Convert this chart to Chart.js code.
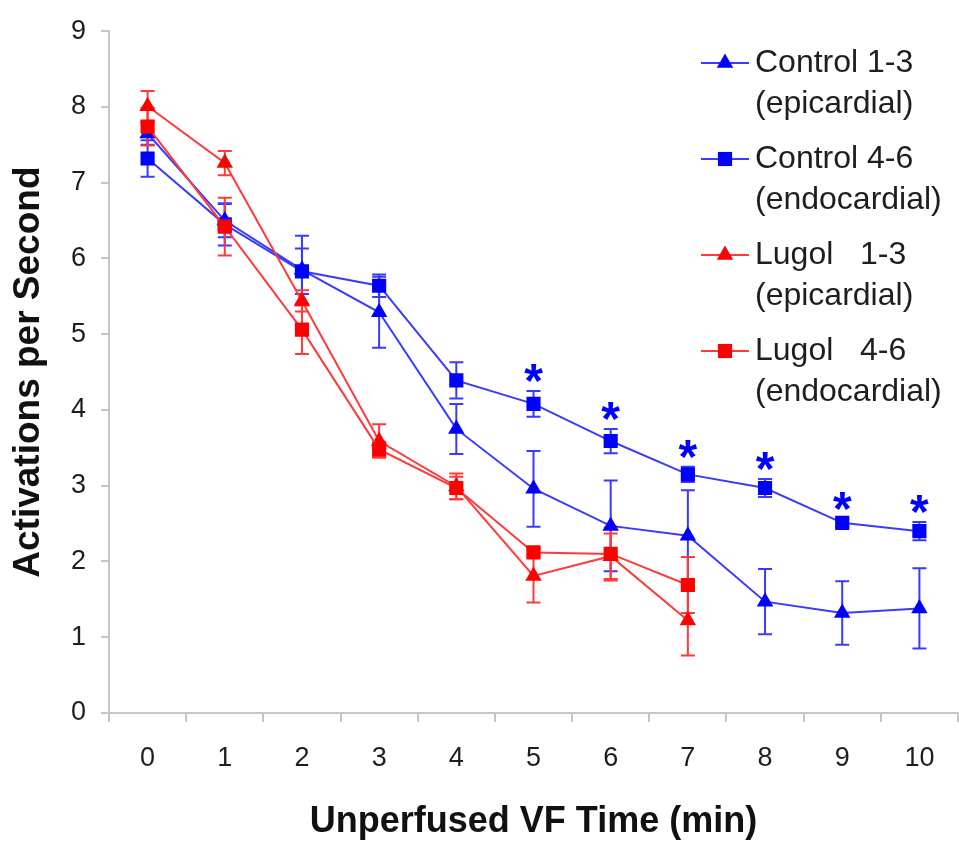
<!DOCTYPE html>
<html>
<head>
<meta charset="utf-8">
<script src="https://cdn.jsdelivr.net/npm/chart.js@4.4.1/dist/chart.umd.min.js"></script>
<style>
    html, body { margin: 0; padding: 0; background: #fff; overflow: hidden; }
    canvas { display: block; }
</style>
</head>
<body>
<canvas id="vf-chart" width="968" height="844"></canvas>
<script>
"use strict";

const minutes = ['0', '1', '2', '3', '4', '5', '6', '7', '8', '9', '10'];

const control13 = [7.65, 6.50, 5.85, 5.29, 3.75, 2.96, 2.47, 2.34, 1.47, 1.32, 1.38];
const control13Err = [0.15, 0.22, 0.45, 0.47, 0.33, 0.50, 0.60, 0.60, 0.43, 0.42, 0.53];
const control46 = [7.32, 6.45, 5.83, 5.64, 4.39, 4.08, 3.59, 3.15, 2.97, 2.51, 2.40];
const control46Err = [0.24, 0.28, 0.30, 0.15, 0.24, 0.17, 0.16, 0.10, 0.12, 0.05, 0.12];
const lugol13 = [8.01, 7.26, 5.44, 3.59, 2.99, 1.81, 2.07, 1.22, null, null, null];
const lugol13Err = [0.20, 0.16, 0.14, 0.22, 0.17, 0.35, 0.30, 0.46, null, null, null];
const lugol46 = [7.74, 6.42, 5.06, 3.48, 2.97, 2.12, 2.10, 1.69, null, null, null];
const lugol46Err = [0.25, 0.38, 0.32, 0.10, 0.15, 0.05, 0.35, 0.37, null, null, null];

// minutes where control 4-6 differs significantly
const starMinutes = [5, 6, 7, 8, 9, 10];

const legendText = [
    ['Control 1-3', '(epicardial)'],
    ['Control 4-6', '(endocardial)'],
    ['Lugol   1-3', '(epicardial)'],
    ['Lugol   4-6', '(endocardial)'],
];

const BLUE = '#0000ff';
const BLUE_LINE = '#3a3aff';
const RED = '#ff0000';
const RED_LINE = '#ff3a3a';
const AXIS_GREY = '#c6c6c6';
const TEXT = '#1e1e1e';
const FONT = "'Liberation Sans', Arial, sans-serif";

function series(data, errors, line, fill, style, order) {
    return {
        data: data,
        errors: errors,
        borderColor: line,
        borderWidth: 2,
        backgroundColor: fill,
        pointBackgroundColor: fill,
        pointBorderColor: fill,
        pointBorderWidth: 0,
        pointStyle: style,
        pointRadius: style === 'rect' ? 10 : 9.5,
        tension: 0,
        fill: false,
        spanGaps: false,
        order: order,
    };
}

const errorBars = {
    id: 'errorBars',
    beforeDatasetsDraw(chart) {
        const { ctx, scales: { y } } = chart;
        chart.data.datasets.forEach((ds, i) => {
            const meta = chart.getDatasetMeta(i);
            ctx.save();
            ctx.strokeStyle = ds.borderColor;
            ctx.lineWidth = 2;
            ds.errors.forEach((err, j) => {
                const v = ds.data[j];
                if (v === null || err === null) return;
                const px = meta.data[j].x;
                const top = y.getPixelForValue(v + err);
                const bottom = y.getPixelForValue(v - err);
                ctx.beginPath();
                ctx.moveTo(px, top);
                ctx.lineTo(px, bottom);
                ctx.moveTo(px - 7, top);
                ctx.lineTo(px + 7, top);
                ctx.moveTo(px - 7, bottom);
                ctx.lineTo(px + 7, bottom);
                ctx.stroke();
            });
            ctx.restore();
        });
    }
};

const stars = {
    id: 'stars',
    afterDatasetsDraw(chart) {
        const { ctx, scales: { x, y } } = chart;
        ctx.save();
        ctx.fillStyle = BLUE;
        ctx.font = 'bold 48px ' + FONT;
        ctx.textAlign = 'center';
        ctx.textBaseline = 'alphabetic';
        starMinutes.forEach(m => {
            const px = x.getPixelForValue(m);
            const py = y.getPixelForValue(control46[m] + control46Err[m]) - 21;
            ctx.fillText('*', px, py + 27);
        });
        ctx.restore();
    }
};

const sideLegend = {
    id: 'sideLegend',
    afterDraw(chart) {
        const ctx = chart.ctx;
        chart.data.datasets.forEach((ds, i) => {
            const rowY = 63 + i * 96;
            ctx.save();
            ctx.strokeStyle = ds.borderColor;
            ctx.lineWidth = 2;
            ctx.beginPath();
            ctx.moveTo(701, rowY);
            ctx.lineTo(749, rowY);
            ctx.stroke();
            ctx.fillStyle = ds.pointBackgroundColor;
            ctx.strokeStyle = ds.pointBorderColor;
            Chart.helpers.drawPoint(ctx, {
                pointStyle: ds.pointStyle,
                radius: ds.pointRadius,
                borderWidth: 0,
                rotation: 0
            }, 725, rowY);
            ctx.fillStyle = TEXT;
            ctx.font = '32px ' + FONT;
            ctx.textAlign = 'left';
            ctx.textBaseline = 'middle';
            legendText[i].forEach((line, k) => {
                ctx.fillText(line, 755, rowY + k * 41);
            });
            ctx.restore();
        });
    }
};

const ctx = document.querySelector('#vf-chart').getContext('2d');
new Chart(ctx, {
    type: 'line',
    data: {
        labels: minutes,
        datasets: [
            series(control13, control13Err, BLUE_LINE, BLUE, 'triangle', 4),
            series(control46, control46Err, BLUE_LINE, BLUE, 'rect', 3),
            series(lugol13, lugol13Err, RED_LINE, RED, 'triangle', 2),
            series(lugol46, lugol46Err, RED_LINE, RED, 'rect', 1),
        ]
    },
    options: {
        responsive: false,
        animation: false,
        layout: { padding: { left: 0, top: 27, right: 0, bottom: 0 } },
        plugins: {
            legend: { display: false },
            tooltip: { enabled: false },
        },
        scales: {
            x: {
                type: 'category',
                offset: true,
                grid: {
                    offset: true,
                    drawOnChartArea: false,
                    drawTicks: true,
                    tickLength: 9,
                    color: AXIS_GREY,
                    lineWidth: 2,
                },
                border: { color: AXIS_GREY, width: 2 },
                ticks: {
                    color: TEXT,
                    padding: 20,
                    maxRotation: 0,
                    autoSkip: false,
                    font: { family: FONT, size: 27 },
                },
                title: {
                    display: true,
                    text: 'Unperfused VF Time (min)',
                    color: '#111',
                    padding: { top: 0, bottom: 0 },
                    font: { family: FONT, size: 36, weight: 'bold' },
                },
                afterFit(scale) { scale.height = 131; },
            },
            y: {
                min: 0,
                max: 9,
                grid: {
                    drawOnChartArea: false,
                    drawTicks: true,
                    tickLength: 8,
                    color: AXIS_GREY,
                    lineWidth: 2,
                },
                border: { color: AXIS_GREY, width: 2 },
                ticks: {
                    stepSize: 1,
                    color: TEXT,
                    padding: 15,
                    font: { family: FONT, size: 27 },
                },
                title: {
                    display: true,
                    text: 'Activations per Second',
                    color: '#111',
                    padding: { top: 7, bottom: 0 },
                    font: { family: FONT, size: 37, weight: 'bold' },
                },
                afterFit(scale) { scale.width = 109; },
            }
        }
    },
    plugins: [errorBars, stars, sideLegend]
});
</script>
</body>
</html>
